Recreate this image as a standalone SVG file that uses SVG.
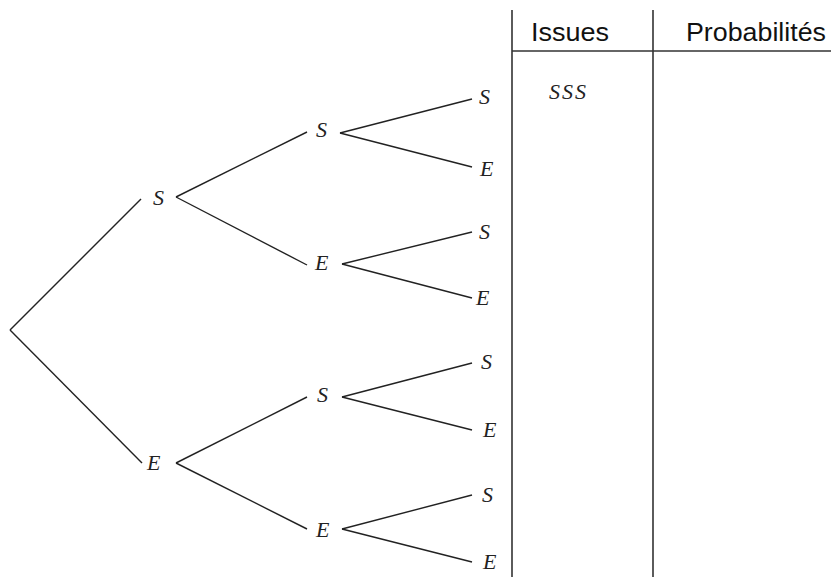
<svg xmlns="http://www.w3.org/2000/svg" width="831" height="577" viewBox="0 0 831 577">
<style>
.e{stroke:#222;stroke-width:1.4;fill:none}
.t{stroke:#333;stroke-width:1.6;fill:none}
.m{font-family:"Liberation Serif","DejaVu Serif",serif;font-style:italic;font-size:22px;fill:#222}
.h{font-family:"Liberation Sans",Arial,sans-serif;font-size:26px;fill:#111}
</style>
<rect width="831" height="577" fill="#fff"/>
<g id="connectors">
<line class="e" x1="10" y1="330" x2="141" y2="199"/>
<line class="e" x1="10" y1="330" x2="142" y2="463"/>
<line class="e" x1="176" y1="197" x2="307" y2="132"/>
<line class="e" x1="176" y1="197" x2="307" y2="265"/>
<line class="e" x1="176" y1="463" x2="307" y2="397"/>
<line class="e" x1="176" y1="463" x2="307" y2="529"/>
<line class="e" x1="340" y1="133" x2="472" y2="99"/>
<line class="e" x1="340" y1="133" x2="472" y2="167"/>
<line class="e" x1="342" y1="264" x2="472" y2="232"/>
<line class="e" x1="342" y1="264" x2="472" y2="298"/>
<line class="e" x1="342" y1="397" x2="472" y2="363"/>
<line class="e" x1="342" y1="397" x2="472" y2="430"/>
<line class="e" x1="342" y1="529" x2="472" y2="495"/>
<line class="e" x1="342" y1="529" x2="472" y2="562"/>
</g>
<g id="n-S1"><text class="m" x="153" y="205">S</text></g>
<g id="n-E1"><text class="m" x="147" y="470">E</text></g>
<g id="n-SS"><text class="m" x="316" y="137">S</text></g>
<g id="n-SE"><text class="m" x="315" y="270">E</text></g>
<g id="n-ES"><text class="m" x="317" y="402">S</text></g>
<g id="n-EE"><text class="m" x="316" y="537">E</text></g>
<g id="n-SSS"><text class="m" x="479" y="104">S</text></g>
<g id="n-SSE"><text class="m" x="480" y="176">E</text></g>
<g id="n-SES"><text class="m" x="479" y="239">S</text></g>
<g id="n-SEE"><text class="m" x="476" y="305">E</text></g>
<g id="n-ESS"><text class="m" x="481" y="369">S</text></g>
<g id="n-ESE"><text class="m" x="483" y="437">E</text></g>
<g id="n-EES"><text class="m" x="482" y="502">S</text></g>
<g id="n-EEE"><text class="m" x="483" y="569">E</text></g>
<g id="table">
<line class="t" x1="512" y1="10" x2="512" y2="577"/>
<line class="t" x1="653" y1="10" x2="653" y2="577"/>
<line class="t" x1="512" y1="51" x2="831" y2="51"/>
<text class="h" x="531" y="41" textLength="78" lengthAdjust="spacingAndGlyphs">Issues</text>
<text class="h" x="686" y="41" textLength="140" lengthAdjust="spacingAndGlyphs">Probabilités</text>
<text class="m" x="549" y="99" textLength="37" lengthAdjust="spacing">SSS</text>
</g>
</svg>
